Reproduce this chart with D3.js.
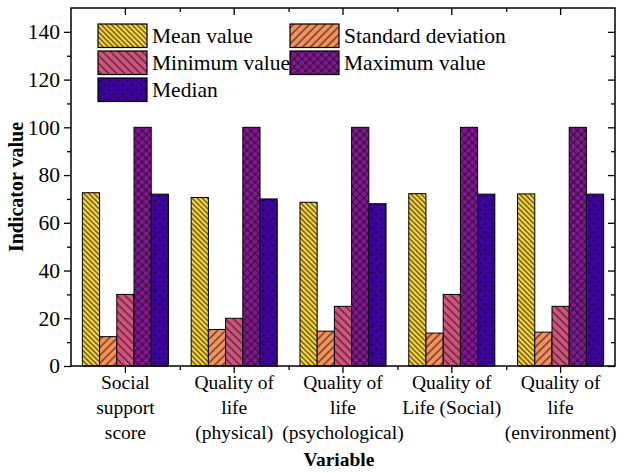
<!DOCTYPE html>
<html>
<head>
    <title>Indicator values by variable</title>
    <script src="https://d3js.org/d3.v7.min.js"></script>
    <style>
        body { margin: 0; background: #fff; }
        text { font-family: "Liberation Serif", "Times New Roman", serif; fill: #000; }
    </style>
</head>
<body>
    <script>
// data
const categories = ["Social support score", "Quality of life (physical)", "Quality of life (psychological)",
                    "Quality of Life (Social)", "Quality of life (environment)"];
// how each category label is broken on the axis
const categoryLines = [
    ["Social", "support", "score"],
    ["Quality of", "life", "(physical)"],
    ["Quality of", "life", "(psychological)"],
    ["Quality of", "Life (Social)"],
    ["Quality of", "life", "(environment)"]
];
const seriesNames = ["Mean value", "Standard deviation", "Minimum value", "Maximum value", "Median"];
const meanValues   = [72.6, 70.6, 68.6, 72.2, 72.1];
const sdValues     = [12.3, 15.3, 14.6, 13.8, 14.2];
const minValues    = [30, 20, 25, 30, 25];
const maxValues    = [100, 100, 100, 100, 100];
const medianValues = [72, 70, 68, 72, 72];
const yTicks = [0, 20, 40, 60, 80, 100, 120, 140];
const yMinorTicks = [10, 30, 50, 70, 90, 110, 130];

const seriesValues = [meanValues, sdValues, minValues, maxValues, medianValues];
const seriesColors = ["#FFD93A", "#F7905A", "#D4527E", "#8E12A0", "#3A0496"];

const W = 624, H = 473;
const pLeft = 71, pRight = 615, pTop = 8, pBottom = 366;

const svg = d3.select("body").append("svg")
    .attr("width", W)
    .attr("height", H);

// fill patterns, one per series
const defs = svg.append("defs");
function hatch(id, color, gap, angle) {
    const p = defs.append("pattern")
        .attr("id", id)
        .attr("patternUnits", "userSpaceOnUse")
        .attr("width", gap).attr("height", gap)
        .attr("patternTransform", "rotate(" + angle + ")");
    p.append("rect").attr("width", gap).attr("height", gap).attr("fill", color);
    p.append("line")
        .attr("x1", gap / 2).attr("y1", 0).attr("x2", gap / 2).attr("y2", gap)
        .attr("stroke", "#1a1a1a").attr("stroke-width", 1);
    return p;
}
hatch("pat0", seriesColors[0], 3.6, -45);
hatch("pat1", seriesColors[1], 5.6, 45);
hatch("pat2", seriesColors[2], 5.6, -45);
const cross = hatch("pat3", seriesColors[3], 5.6, 45);
cross.append("line")
    .attr("x1", 0).attr("y1", 5.6 / 2).attr("x2", 5.6).attr("y2", 5.6 / 2)
    .attr("stroke", "#1a1a1a").attr("stroke-width", 1);
const dots = defs.append("pattern")
    .attr("id", "pat4")
    .attr("patternUnits", "userSpaceOnUse")
    .attr("width", 9).attr("height", 9);
dots.append("rect").attr("width", 9).attr("height", 9).attr("fill", seriesColors[4]);
dots.append("rect").attr("x", 2).attr("y", 2).attr("width", 1.2).attr("height", 1.2).attr("fill", "#000");
dots.append("rect").attr("x", 6.5).attr("y", 6.5).attr("width", 1.2).attr("height", 1.2).attr("fill", "#000");

// scales
const x0 = d3.scaleBand()
    .domain(categories)
    .range([pLeft, pRight]);

const x1 = d3.scaleBand()
    .domain(seriesNames)
    .range([0, x0.bandwidth()])
    .paddingOuter(0.66);

const xEdge = d3.scaleLinear()
    .domain([0, categories.length])
    .range([pLeft, pRight]);

const y = d3.scaleLinear()
    .domain([0, 150])
    .range([pBottom, pTop]);

// bars
const groups = svg.append("g")
    .selectAll("g")
    .data(categories)
    .join("g")
    .attr("transform", d => "translate(" + x0(d) + ",0)");

groups.selectAll("rect")
    .data((c, i) => seriesNames.map((s, k) => ({ s: s, k: k, v: seriesValues[k][i] })))
    .join("rect")
    .attr("x", d => x1(d.s))
    .attr("y", d => y(d.v))
    .attr("width", x1.bandwidth())
    .attr("height", d => y(0) - y(d.v))
    .attr("fill", d => "url(#pat" + d.k + ")")
    .attr("stroke", "#000")
    .attr("stroke-width", 1);

// axes
function tidy(g) {
    g.select(".domain").remove();
    g.selectAll(".tick line").attr("stroke", "#000").attr("stroke-width", 1.3);
}

svg.append("g")
    .attr("transform", "translate(" + pLeft + ",0)")
    .call(d3.axisLeft(y).tickValues(yTicks).tickSize(7).tickPadding(4))
    .call(tidy)
    .selectAll("text").style("font-size", "21.5px");

svg.append("g")
    .attr("transform", "translate(" + pLeft + ",0)")
    .call(d3.axisLeft(y).tickValues(yMinorTicks).tickSize(4).tickFormat(""))
    .call(tidy);

svg.append("g")
    .attr("transform", "translate(" + pRight + ",0)")
    .call(d3.axisRight(y).tickValues(yTicks).tickSize(-7).tickFormat(""))
    .call(tidy);

svg.append("g")
    .attr("transform", "translate(" + pRight + ",0)")
    .call(d3.axisRight(y).tickValues(yMinorTicks).tickSize(-4).tickFormat(""))
    .call(tidy);

svg.append("g")
    .attr("transform", "translate(0," + pTop + ")")
    .call(d3.axisTop(x0).tickSize(-7).tickFormat(""))
    .call(tidy);

svg.append("g")
    .attr("transform", "translate(0," + pTop + ")")
    .call(d3.axisTop(xEdge).tickValues(d3.range(1, categories.length)).tickSize(-4).tickFormat(""))
    .call(tidy);

const xAxis = svg.append("g")
    .attr("transform", "translate(0," + pBottom + ")")
    .call(d3.axisBottom(x0).tickSize(7).tickFormat(""))
    .call(tidy);

svg.append("g")
    .attr("transform", "translate(0," + pBottom + ")")
    .call(d3.axisBottom(xEdge).tickValues(d3.range(1, categories.length)).tickSize(4).tickFormat(""))
    .call(tidy);

// multi-line category labels
xAxis.selectAll(".tick").each(function (d, i) {
    const t = d3.select(this).append("text")
        .attr("text-anchor", "middle")
        .style("font-size", "19.5px");
    categoryLines[i].forEach((line, j) => {
        t.append("tspan").attr("x", 0).attr("y", 23 + j * 25).text(line);
    });
});

// frame
svg.append("rect")
    .attr("x", pLeft).attr("y", pTop)
    .attr("width", pRight - pLeft).attr("height", pBottom - pTop)
    .attr("fill", "none")
    .attr("stroke", "#000")
    .attr("stroke-width", 1.5);

// axis titles
svg.append("text")
    .attr("x", (pLeft + pRight) / 2 - 4)
    .attr("y", 466)
    .attr("text-anchor", "middle")
    .style("font-size", "19.5px")
    .style("font-weight", "bold")
    .text("Variable");

svg.append("text")
    .attr("transform", "translate(23," + ((pTop + pBottom) / 2) + ") rotate(-90)")
    .attr("text-anchor", "middle")
    .style("font-size", "20px")
    .style("font-weight", "bold")
    .text("Indicator value");

// legend
const legendCols = [98, 290];
const legend = svg.append("g")
    .selectAll("g")
    .data(seriesNames)
    .join("g")
    .attr("transform", (d, i) => "translate(" + legendCols[i % 2] + "," + (24 + Math.floor(i / 2) * 27) + ")");

legend.append("rect")
    .attr("width", 49).attr("height", 23.5)
    .attr("fill", (d, i) => "url(#pat" + i + ")")
    .attr("stroke", "#000")
    .attr("stroke-width", 1.2);

legend.append("text")
    .attr("x", 54)
    .attr("y", 19)
    .style("font-size", "21.5px")
    .text(d => d);
    </script>
</body>
</html>
